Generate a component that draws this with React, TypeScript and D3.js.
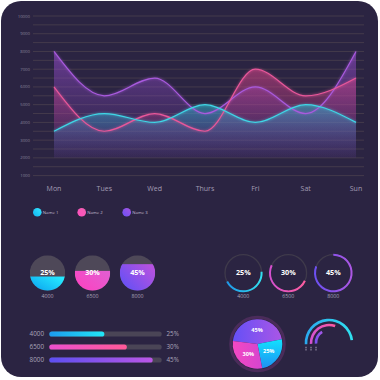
import React from 'react';
import * as d3 from 'd3';

const days = ['Mon', 'Tues', 'Wed', 'Thurs', 'Fri', 'Sat', 'Sun'];
const yTickValues = [1000, 2000, 3000, 4000, 5000, 6000, 7000, 8000, 9000, 10000];
const gridValues = d3.range(1000, 10001, 500);
const name1 = [3500, 4500, 4000, 5000, 4000, 5000, 4000];
const name2 = [6000, 3500, 4500, 3500, 7000, 5500, 6500];
const name3 = [8000, 5500, 6500, 4500, 6000, 4500, 8000];
const legendNames = ['Name 1', 'Name 2', 'Name 3'];

const gaugePercents = ['25%', '30%', '45%'];
const gaugeValues = ['4000', '6500', '8000'];
const liquidLevels = [40, 56, 75];
const ringStartDeg = [86, 115, 0];
const ringEndDeg = [242, 295, 291];
const barProgress = [49, 69, 92];
const pieValues = [45, 25, 30];
const pieLabels = ['45%', '25%', '30%'];
const rainbowEndDeg = [83, 20, -32];

const FONT = "'Open Sans', 'DejaVu Sans', sans-serif";
const rad = (d: number) => (d * Math.PI) / 180;

export default function App() {
  const x = d3.scalePoint<string>().domain(days).range([54, 356]);
  const y = d3.scaleLinear().domain([1000, 10000]).range([175.6, 16]);
  const base = 2000;

  const series = [
    { id: 'p', values: name3, line: '#a95ade', top: 'rgba(160,80,215,0.55)', bot: 'rgba(100,60,160,0.04)' },
    { id: 'k', values: name2, line: '#e8579a', top: 'rgba(225,70,140,0.55)', bot: 'rgba(150,50,130,0.04)' },
    { id: 'c', values: name1, line: '#3fd6e6', top: 'rgba(45,185,205,0.55)', bot: 'rgba(90,80,190,0.08)' },
  ];

  const lineGen = d3
    .line<number>()
    .x((_, i) => x(days[i]) as number)
    .y((d) => y(d))
    .curve(d3.curveMonotoneX);
  const areaGen = d3
    .area<number>()
    .x((_, i) => x(days[i]) as number)
    .y0(y(base))
    .y1((d) => y(d))
    .curve(d3.curveMonotoneX);

  const legendX = [37.3, 81.7, 126.7];
  const legendGrads = [
    ['#10b4f0', '#35e6ff'],
    ['#ff4fc0', '#f060b0'],
    ['#6a50f5', '#a655e2'],
  ];

  // liquid gauges
  const liqX = [47.5, 92.5, 137.5];
  const liqY = 273;
  const liqR = 17.7;
  const liqScale = d3.scaleLinear().domain([0, 100]).range([liqY + liqR, liqY - liqR]);
  const liqGrads = [
    ['#0a9eee', '#25e8ff'],
    ['#ff3fbf', '#e45cd0'],
    ['#5a50f8', '#b452e0'],
  ];

  // ring gauges
  const ringX = [243.3, 288.3, 333.3];
  const ringY = 273;
  const ringR = 18.3;
  const ringGrads = [
    ['#1e96e8', '#32e2f0'],
    ['#d34fd0', '#ff5d9e'],
    ['#6a4ff2', '#ae57e4'],
  ];
  const ringArc = d3.arc<any>();

  // bars
  const barLabelsY = d3.scalePoint<string>().domain(gaugeValues).range([334, 360]);
  const barX = d3.scaleLinear().domain([0, 100]).range([49.3, 161.7]);
  const barGrads = [
    ['#1c9bef', '#22e6f6'],
    ['#ec4fcf', '#ff5a98'],
    ['#5c4ff2', '#bb56e6'],
  ];

  // pie
  const pcx = 257.5;
  const pcy = 344;
  const pr = 24.8;
  const pie = d3
    .pie<number>()
    .sort(null)
    .startAngle(rad(-83))
    .endAngle(rad(-83) + Math.PI * 2);
  const arcs = pie(pieValues);
  const pieArc = d3.arc<any>().innerRadius(0).outerRadius(pr);
  const labelArc = d3.arc<any>().innerRadius(13.5).outerRadius(13.5);
  const pieGradIds = ['pie45', 'pie25', 'pie30'];

  // rainbow
  const rcx = 329;
  const rcy = 343;
  const rainbowR = [23, 18, 13];
  const rainbowGrads = [
    ['#2aa8ee', '#30e2f0'],
    ['#d352d2', '#ff5a9e'],
    ['#7650f0', '#a858e8'],
  ];

  return (
    <svg
      width={380}
      height={380}
      viewBox="0 0 380 380"
      style={{ position: 'absolute', left: 0, top: 0, background: '#ffffff' }}
    >
      <defs>
        {series.map((s) => (
          <linearGradient key={s.id} id={'area-' + s.id} x1="0" y1="0" x2="0" y2="1">
            <stop offset="0%" stopColor={s.top} />
            <stop offset="100%" stopColor={s.bot} />
          </linearGradient>
        ))}
        {legendGrads.map((g, i) => (
          <linearGradient key={'lg' + i} id={'leg' + i} x1="0" y1="1" x2="1" y2="0">
            <stop offset="0%" stopColor={g[0]} />
            <stop offset="100%" stopColor={g[1]} />
          </linearGradient>
        ))}
        {liqGrads.map((g, i) => (
          <linearGradient key={'liq' + i} id={'liq' + i} x1="0" y1="1" x2="1" y2="0.3">
            <stop offset="0%" stopColor={g[0]} />
            <stop offset="100%" stopColor={g[1]} />
          </linearGradient>
        ))}
        {ringGrads.map((g, i) => (
          <linearGradient key={'rg' + i} id={'ring' + i} x1="0" y1="0" x2="1" y2="0">
            <stop offset="0%" stopColor={g[0]} />
            <stop offset="100%" stopColor={g[1]} />
          </linearGradient>
        ))}
        {barGrads.map((g, i) => (
          <linearGradient key={'bg' + i} id={'bar' + i} x1="0" y1="0" x2="1" y2="0">
            <stop offset="0%" stopColor={g[0]} />
            <stop offset="100%" stopColor={g[1]} />
          </linearGradient>
        ))}
        {rainbowGrads.map((g, i) => (
          <linearGradient key={'rb' + i} id={'rain' + i} x1="0" y1="0" x2="1" y2="0">
            <stop offset="0%" stopColor={g[0]} />
            <stop offset="100%" stopColor={g[1]} />
          </linearGradient>
        ))}
        <linearGradient id="pie45" x1="0" y1="0" x2="1" y2="0">
          <stop offset="0%" stopColor="#6550f6" />
          <stop offset="100%" stopColor="#aa56e6" />
        </linearGradient>
        <linearGradient id="pie30" x1="0" y1="0" x2="1" y2="0">
          <stop offset="0%" stopColor="#f448c2" />
          <stop offset="100%" stopColor="#d545cf" />
        </linearGradient>
        <linearGradient id="pie25" x1="0" y1="0" x2="0" y2="1">
          <stop offset="0%" stopColor="#12e2ff" />
          <stop offset="100%" stopColor="#1f90f2" />
        </linearGradient>
        {liqX.map((cx, i) => (
          <clipPath key={'cp' + i} id={'clip' + i}>
            <circle cx={cx} cy={liqY} r={liqR} />
          </clipPath>
        ))}
        <filter id="glow" x="-20%" y="-20%" width="140%" height="140%">
          <feGaussianBlur stdDeviation="1.2" />
        </filter>
      </defs>

      <rect x={1} y={1} width={377} height={376} rx={20} fill="#2b2442" />

      {/* gridlines */}
      {gridValues.map((v) => (
        <line key={'g' + v} x1={33} x2={364} y1={y(v)} y2={y(v)} stroke="#564a52" strokeWidth={0.6} />
      ))}
      {yTickValues.map((v) => (
        <text
          key={'yt' + v}
          x={30}
          y={y(v) + 1.5}
          textAnchor="end"
          fontSize={4.3}
          fill="#8a849c"
          fontFamily={FONT}
        >
          {v}
        </text>
      ))}

      {/* areas */}
      {series.map((s) => (
        <path key={'a' + s.id} d={areaGen(s.values) as string} fill={`url(#area-${s.id})`} />
      ))}
      {series.map((s) => (
        <path
          key={'gl' + s.id}
          d={lineGen(s.values) as string}
          fill="none"
          stroke={s.line}
          strokeWidth={2.5}
          opacity={0.35}
          filter="url(#glow)"
        />
      ))}
      {series.map((s) => (
        <path key={'l' + s.id} d={lineGen(s.values) as string} fill="none" stroke={s.line} strokeWidth={1.2} />
      ))}

      {days.map((d) => (
        <text
          key={'x' + d}
          x={x(d) as number}
          y={190.5}
          textAnchor="middle"
          fontSize={7}
          fill="#a39db4"
          fontFamily={FONT}
        >
          {d}
        </text>
      ))}

      {/* legend */}
      {legendNames.map((n, i) => (
        <g key={'leg' + n}>
          <circle cx={legendX[i]} cy={212.3} r={4.3} fill={`url(#leg${i})`} />
          <text x={legendX[i] + 5.5} y={213.8} fontSize={4.3} fill="#c2bdd2" fontFamily={FONT}>
            {n}
          </text>
        </g>
      ))}

      {/* liquid gauges */}
      {liqX.map((cx, i) => (
        <g key={'liqg' + i}>
          <g clipPath={`url(#clip${i})`}>
            <rect x={cx - liqR} y={liqY - liqR} width={liqR * 2} height={liqR * 2} fill="#4e4858" />
            <rect
              x={cx - liqR}
              y={liqScale(liquidLevels[i])}
              width={liqR * 2}
              height={liqY + liqR - liqScale(liquidLevels[i])}
              fill={`url(#liq${i})`}
            />
          </g>
          <text
            x={cx}
            y={liqY + 2.4}
            textAnchor="middle"
            fontSize={7.2}
            fontWeight="bold"
            fill="#ffffff"
            fontFamily={FONT}
          >
            {gaugePercents[i]}
          </text>
          <text x={cx} y={297.5} textAnchor="middle" fontSize={5.2} fill="#aaa5ba" fontFamily={FONT}>
            {gaugeValues[i]}
          </text>
        </g>
      ))}

      {/* ring gauges */}
      {ringX.map((cx, i) => (
        <g key={'ring' + i} transform={`translate(${cx},${ringY})`}>
          <circle r={ringR} fill="none" stroke="#3f3a4b" strokeWidth={1.3} />
          <path
            d={
              ringArc({
                innerRadius: ringR - 1,
                outerRadius: ringR + 1,
                startAngle: rad(ringStartDeg[i]),
                endAngle: rad(ringEndDeg[i]),
              }) as string
            }
            fill={`url(#ring${i})`}
          />
          <text y={2.4} textAnchor="middle" fontSize={7.2} fontWeight="bold" fill="#ffffff" fontFamily={FONT}>
            {gaugePercents[i]}
          </text>
          <text y={297.5 - ringY} textAnchor="middle" fontSize={5.2} fill="#aaa5ba" fontFamily={FONT}>
            {gaugeValues[i]}
          </text>
        </g>
      ))}

      {/* horizontal bars */}
      {gaugeValues.map((v, i) => {
        const cy = barLabelsY(v) as number;
        return (
          <g key={'bar' + v}>
            <text x={44} y={cy + 2.2} textAnchor="end" fontSize={6.3} fill="#aaa5ba" fontFamily={FONT}>
              {v}
            </text>
            <rect x={barX(0)} y={cy - 2.6} width={barX(100) - barX(0)} height={5.2} rx={2.6} fill="#4a4556" />
            <rect
              x={barX(0)}
              y={cy - 2.6}
              width={barX(barProgress[i]) - barX(0)}
              height={5.2}
              rx={2.6}
              fill={`url(#bar${i})`}
            />
            <text x={166.5} y={cy + 2.2} fontSize={6.3} fill="#aaa5ba" fontFamily={FONT}>
              {gaugePercents[i]}
            </text>
          </g>
        );
      })}

      {/* pie */}
      <g transform={`translate(${pcx},${pcy})`}>
        <circle r={pr + 2} fill="none" stroke="#4a2c5a" strokeWidth={3} />
        {arcs.map((a, i) => (
          <path key={'pie' + i} d={pieArc(a) as string} fill={`url(#${pieGradIds[i]})`} />
        ))}
        {arcs.map((a, i) => {
          const [lx, ly] = labelArc.centroid(a);
          return (
            <text
              key={'pl' + i}
              x={lx}
              y={ly + 1.9}
              textAnchor="middle"
              fontSize={5.6}
              fontWeight="bold"
              fill="#ffffff"
              fontFamily={FONT}
            >
              {pieLabels[i]}
            </text>
          );
        })}
      </g>

      {/* rainbow arcs */}
      <g transform={`translate(${rcx},${rcy})`}>
        {rainbowR.map((r, i) => (
          <g key={'rb' + i}>
            <path
              d={
                ringArc({
                  innerRadius: r - 1.3,
                  outerRadius: r + 1.3,
                  startAngle: rad(-93),
                  endAngle: rad(rainbowEndDeg[i]),
                  cornerRadius: 1.3,
                }) as string
              }
              fill={`url(#rain${i})`}
            />
            <line
              x1={-r}
              x2={-r}
              y1={3.8}
              y2={8}
              stroke="#bcb7cc"
              strokeWidth={1}
              strokeDasharray="1.1 0.8"
            />
          </g>
        ))}
      </g>
    </svg>
  );
}
